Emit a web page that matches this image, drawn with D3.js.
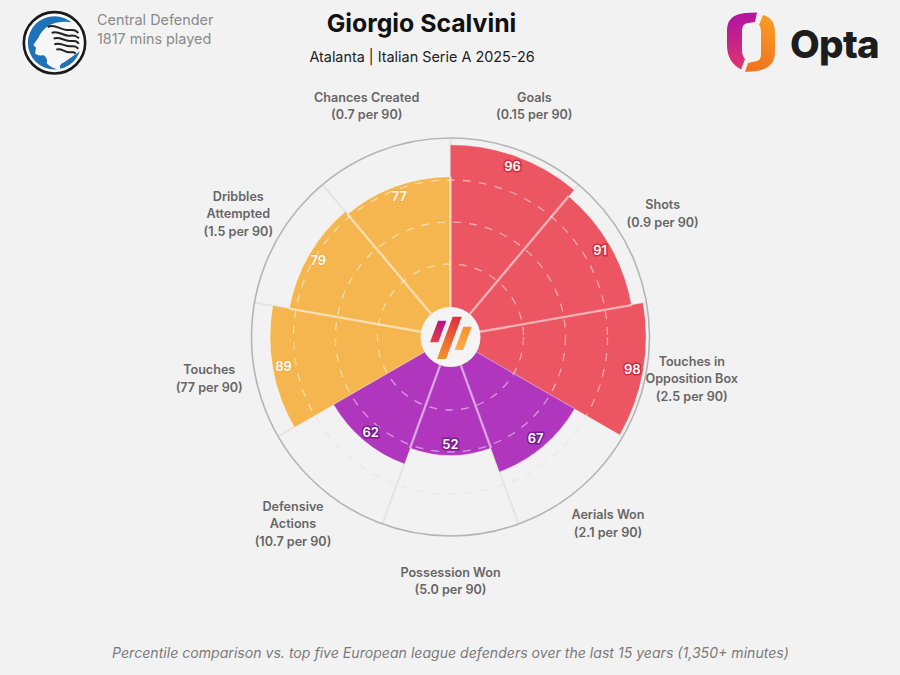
<!DOCTYPE html>
<html><head><meta charset="utf-8">
<script src="https://cdn.jsdelivr.net/npm/d3@7"></script>
<style>html,body{margin:0;padding:0;background:#f2f2f2}svg{display:block}text{font-family:Inter,Roboto,sans-serif}</style>
</head><body><svg id="c" width="900" height="675"></svg>
<script>
const categories=[["Goals"],["Shots"],["Touches in","Opposition Box"],["Aerials Won"],["Possession Won"],["Defensive","Actions"],["Touches"],["Dribbles","Attempted"],["Chances Created"]];
const perNinety=["0.15 per 90","0.9 per 90","2.5 per 90","2.1 per 90","5.0 per 90","10.7 per 90","77 per 90","1.5 per 90","0.7 per 90"];
const percentiles=[96,91,98,67,52,62,89,79,77];
const groups=["a","a","a","d","d","d","p","p","p"];
const ringTicks=[25,50,75];
const groupColors={a:"#ec5562",d:"#b036be",p:"#f6b64f"};
const groupStroke={a:"#d22c40",d:"#7d1a96",p:"#eda63a"};
const W=900,H=675,cx=450.5,cy=337;
const svg=d3.select("#c");
const idx=d3.range(categories.length);
const angle=d3.scaleLinear().domain([0,categories.length]).range([0,2*Math.PI]);
const radius=d3.scaleLinear().domain([0,100]).range([31,199]);
const pol=(a,r)=>[cx+r*Math.sin(a),cy-r*Math.cos(a)];
const defs=svg.append("defs");
function grad(id,x1,y1,x2,y2,stops){const g=defs.append("linearGradient").attr("id",id).attr("gradientUnits","userSpaceOnUse").attr("x1",x1).attr("y1",y1).attr("x2",x2).attr("y2",y2);stops.forEach(s=>g.append("stop").attr("offset",s[0]).attr("stop-color",s[1]));}
grad("gL",735,20,745,70,[[0,"#b5179e"],[1,"#e0356a"]]);
grad("gR",770,20,750,70,[[0,"#f79a24"],[1,"#f2711c"]]);
grad("h1",442,320,432,343,[[0,"#b3128f"],[1,"#e8413f"]]);
grad("h2",455,317,440,358,[[0,"#e0303f"],[1,"#f79326"]]);
grad("h3",468,327,458,350,[[0,"#f7902a"],[1,"#f9b14a"]]);
svg.append("rect").attr("width",W).attr("height",H).attr("fill","#f2f2f2");

// header
svg.append("text").attr("x",97).attr("y",25).attr("font-size",14.4).attr("fill","#8a8a8a").text("Central Defender");
svg.append("text").attr("x",97).attr("y",44).attr("font-size",14.4).attr("fill","#8a8a8a").text("1817 mins played");
svg.append("text").attr("x",421.5).attr("y",32).attr("text-anchor","middle").attr("font-size",24.8).attr("font-weight",700).attr("fill","#111").text("Giorgio Scalvini");
svg.append("text").attr("x",422).attr("y",61.5).attr("text-anchor","middle").attr("font-size",14.4).attr("fill","#222").text("Atalanta | Italian Serie A 2025-26");
svg.append("text").attr("x",450.5).attr("y",658).attr("text-anchor","middle").attr("font-size",14.1).attr("font-style","italic").attr("fill","#7a7a7a").text("Percentile comparison vs. top five European league defenders over the last 15 years (1,350+ minutes)");

// crest
const crest=svg.append("g").attr("transform","translate(15,5) scale(0.3333)");
crest.append("circle").attr("cx",118.5).attr("cy",113.5).attr("r",92).attr("fill","#fff").attr("stroke","#1a1a1a").attr("stroke-width",8);
crest.append("circle").attr("cx",118.5).attr("cy",113.5).attr("r",80).attr("fill","#1f72b8");
crest.append("path").attr("fill","#f6f6f6").attr("d","M175 52 Q130 45 100 62 Q78 78 72 95 L55 120 L63 128 L60 145 Q70 155 85 150 Q100 160 95 175 Q110 192 140 195 Q125 180 150 170 L200 135 L200 85 Z");
["M98 66 C120 55 135 75 155 75 S178 72 190 84","M110 84 C128 74 142 92 160 92 S180 90 192 100","M116 101 C132 92 146 108 164 108 S182 106 192 116","M118 118 C134 110 148 124 166 124 S180 122 190 131","M124 134 C138 127 148 142 164 142 S174 140 182 146"].forEach(d=>crest.append("path").attr("d",d).attr("fill","none").attr("stroke","#222").attr("stroke-width",6));

// Opta logo
svg.append("path").attr("fill","url(#gL)").attr("d","M757 12.5 L755 22 L748 23 Q742 24 742 30 L742 50 Q742 56 745 59 L741 69.5 Q727 62 727 45 L727 30 Q727 15 745 13 Z");
svg.append("path").attr("fill","url(#gR)").attr("d","M763 15 Q775 18 775 33 L775 52 Q775 68 757 71 L745 72 L748 63 L757 61 Q761 60 761 54 L761 32 Q761 27 759 25 Z");
svg.append("text").attr("x",790).attr("y",58).attr("font-size",38.5).attr("font-weight",800).attr("fill","#1d1d1d").attr("letter-spacing",-0.7).text("Opta");

// background guides
const grid=svg.append("g");
idx.forEach(i=>{const a=angle(i),p0=pol(a,30),p1=pol(a,radius(100));
 grid.append("line").attr("x1",p0[0]).attr("y1",p0[1]).attr("x2",p1[0]).attr("y2",p1[1]).attr("stroke","#e4e4e4").attr("stroke-width",2);});
const ringsBg=svg.append("g").attr("transform",`translate(${cx},${cy})`);
ringsBg.selectAll("circle").data(ringTicks).join("circle").attr("r",d=>radius(d)).attr("fill","none").attr("stroke","#e8e8e8").attr("stroke-width",1.3).attr("stroke-dasharray","8 8");
svg.append("circle").attr("cx",cx).attr("cy",cy).attr("r",radius(100)).attr("fill","none").attr("stroke","#b4b4b4").attr("stroke-width",1.6);

// wedges
const arc=d3.arc().innerRadius(0).outerRadius(i=>radius(percentiles[i])).startAngle(i=>angle(i)).endAngle(i=>angle(i+1));
const chart=svg.append("g").attr("transform",`translate(${cx},${cy})`);
chart.selectAll("path").data(idx).join("path").attr("d",arc).attr("fill",i=>groupColors[groups[i]]);
// clipped rings over wedges
idx.forEach(i=>{
 const id="w"+i;defs.append("clipPath").attr("id",id).append("path").attr("d",arc(i));
 const g=chart.append("g").attr("clip-path",`url(#${id})`);
 ringTicks.forEach(t=>g.append("circle").attr("r",radius(t)).attr("fill","none").attr("stroke","#fff").attr("stroke-opacity",.5).attr("stroke-width",1.3).attr("stroke-dasharray","8 8"));
 const edge=d3.arc().innerRadius(radius(percentiles[i])-.5).outerRadius(radius(percentiles[i])+.5).startAngle(angle(i)).endAngle(angle(i+1));
 chart.append("path").attr("d",edge()).attr("fill","#fff").attr("fill-opacity",.45);
});
// separators
idx.forEach(i=>{const prev=(i+idx.length-1)%idx.length;
 const same=groups[prev]===groups[i];
 const a=angle(i),p0=pol(a,30),p1=pol(a,radius(Math.min(percentiles[i],percentiles[prev])));
 svg.append("line").attr("x1",p0[0]).attr("y1",p0[1]).attr("x2",p1[0]).attr("y2",p1[1]).attr("stroke","#fff").attr("stroke-opacity",same?.5:(i===0?.55:.25)).attr("stroke-width",same?2.4:(i===0?2.4:1.2));});
// value labels
idx.forEach(i=>{const a=angle(i+.5),p=pol(a,radius(percentiles[i])-11);
 svg.append("text").attr("x",p[0]).attr("y",p[1]+4.5).attr("text-anchor","middle").attr("font-size",13).attr("font-weight",600)
 .attr("fill","#fff").attr("stroke",groupStroke[groups[i]]).attr("stroke-width",groups[i]==="p"?1.2:3).attr("paint-order","stroke").text(percentiles[i]);});
// category labels
idx.forEach(i=>{const a=angle(i+.5),p=pol(a,245);
 const lines=categories[i].concat("("+perNinety[i]+")");
 const t=svg.append("text").attr("text-anchor","middle").attr("font-size",12.6).attr("font-weight",600).attr("fill","#666");
 const y0=p[1]-(lines.length-1)*17.5/2+3.5;
 lines.forEach((l,k)=>t.append("tspan").attr("x",p[0]).attr("y",y0+k*17.5).text(l));});
// hub
svg.append("circle").attr("cx",cx).attr("cy",cy).attr("r",30).attr("fill","#f5f4f4");
const hub=(pts,f)=>svg.append("polygon").attr("points",pts.map(p=>[380+p[0]/3,280+p[1]/3].join(",")).join(" ")).attr("fill",f);
hub([[174,122],[199,122],[175,187],[150,187]],"url(#h1)");
hub([[218,110],[245,110],[198,237],[171,237]],"url(#h2)");
hub([[250,140],[275,140],[249,210],[224,210]],"url(#h3)");
</script></body></html>
